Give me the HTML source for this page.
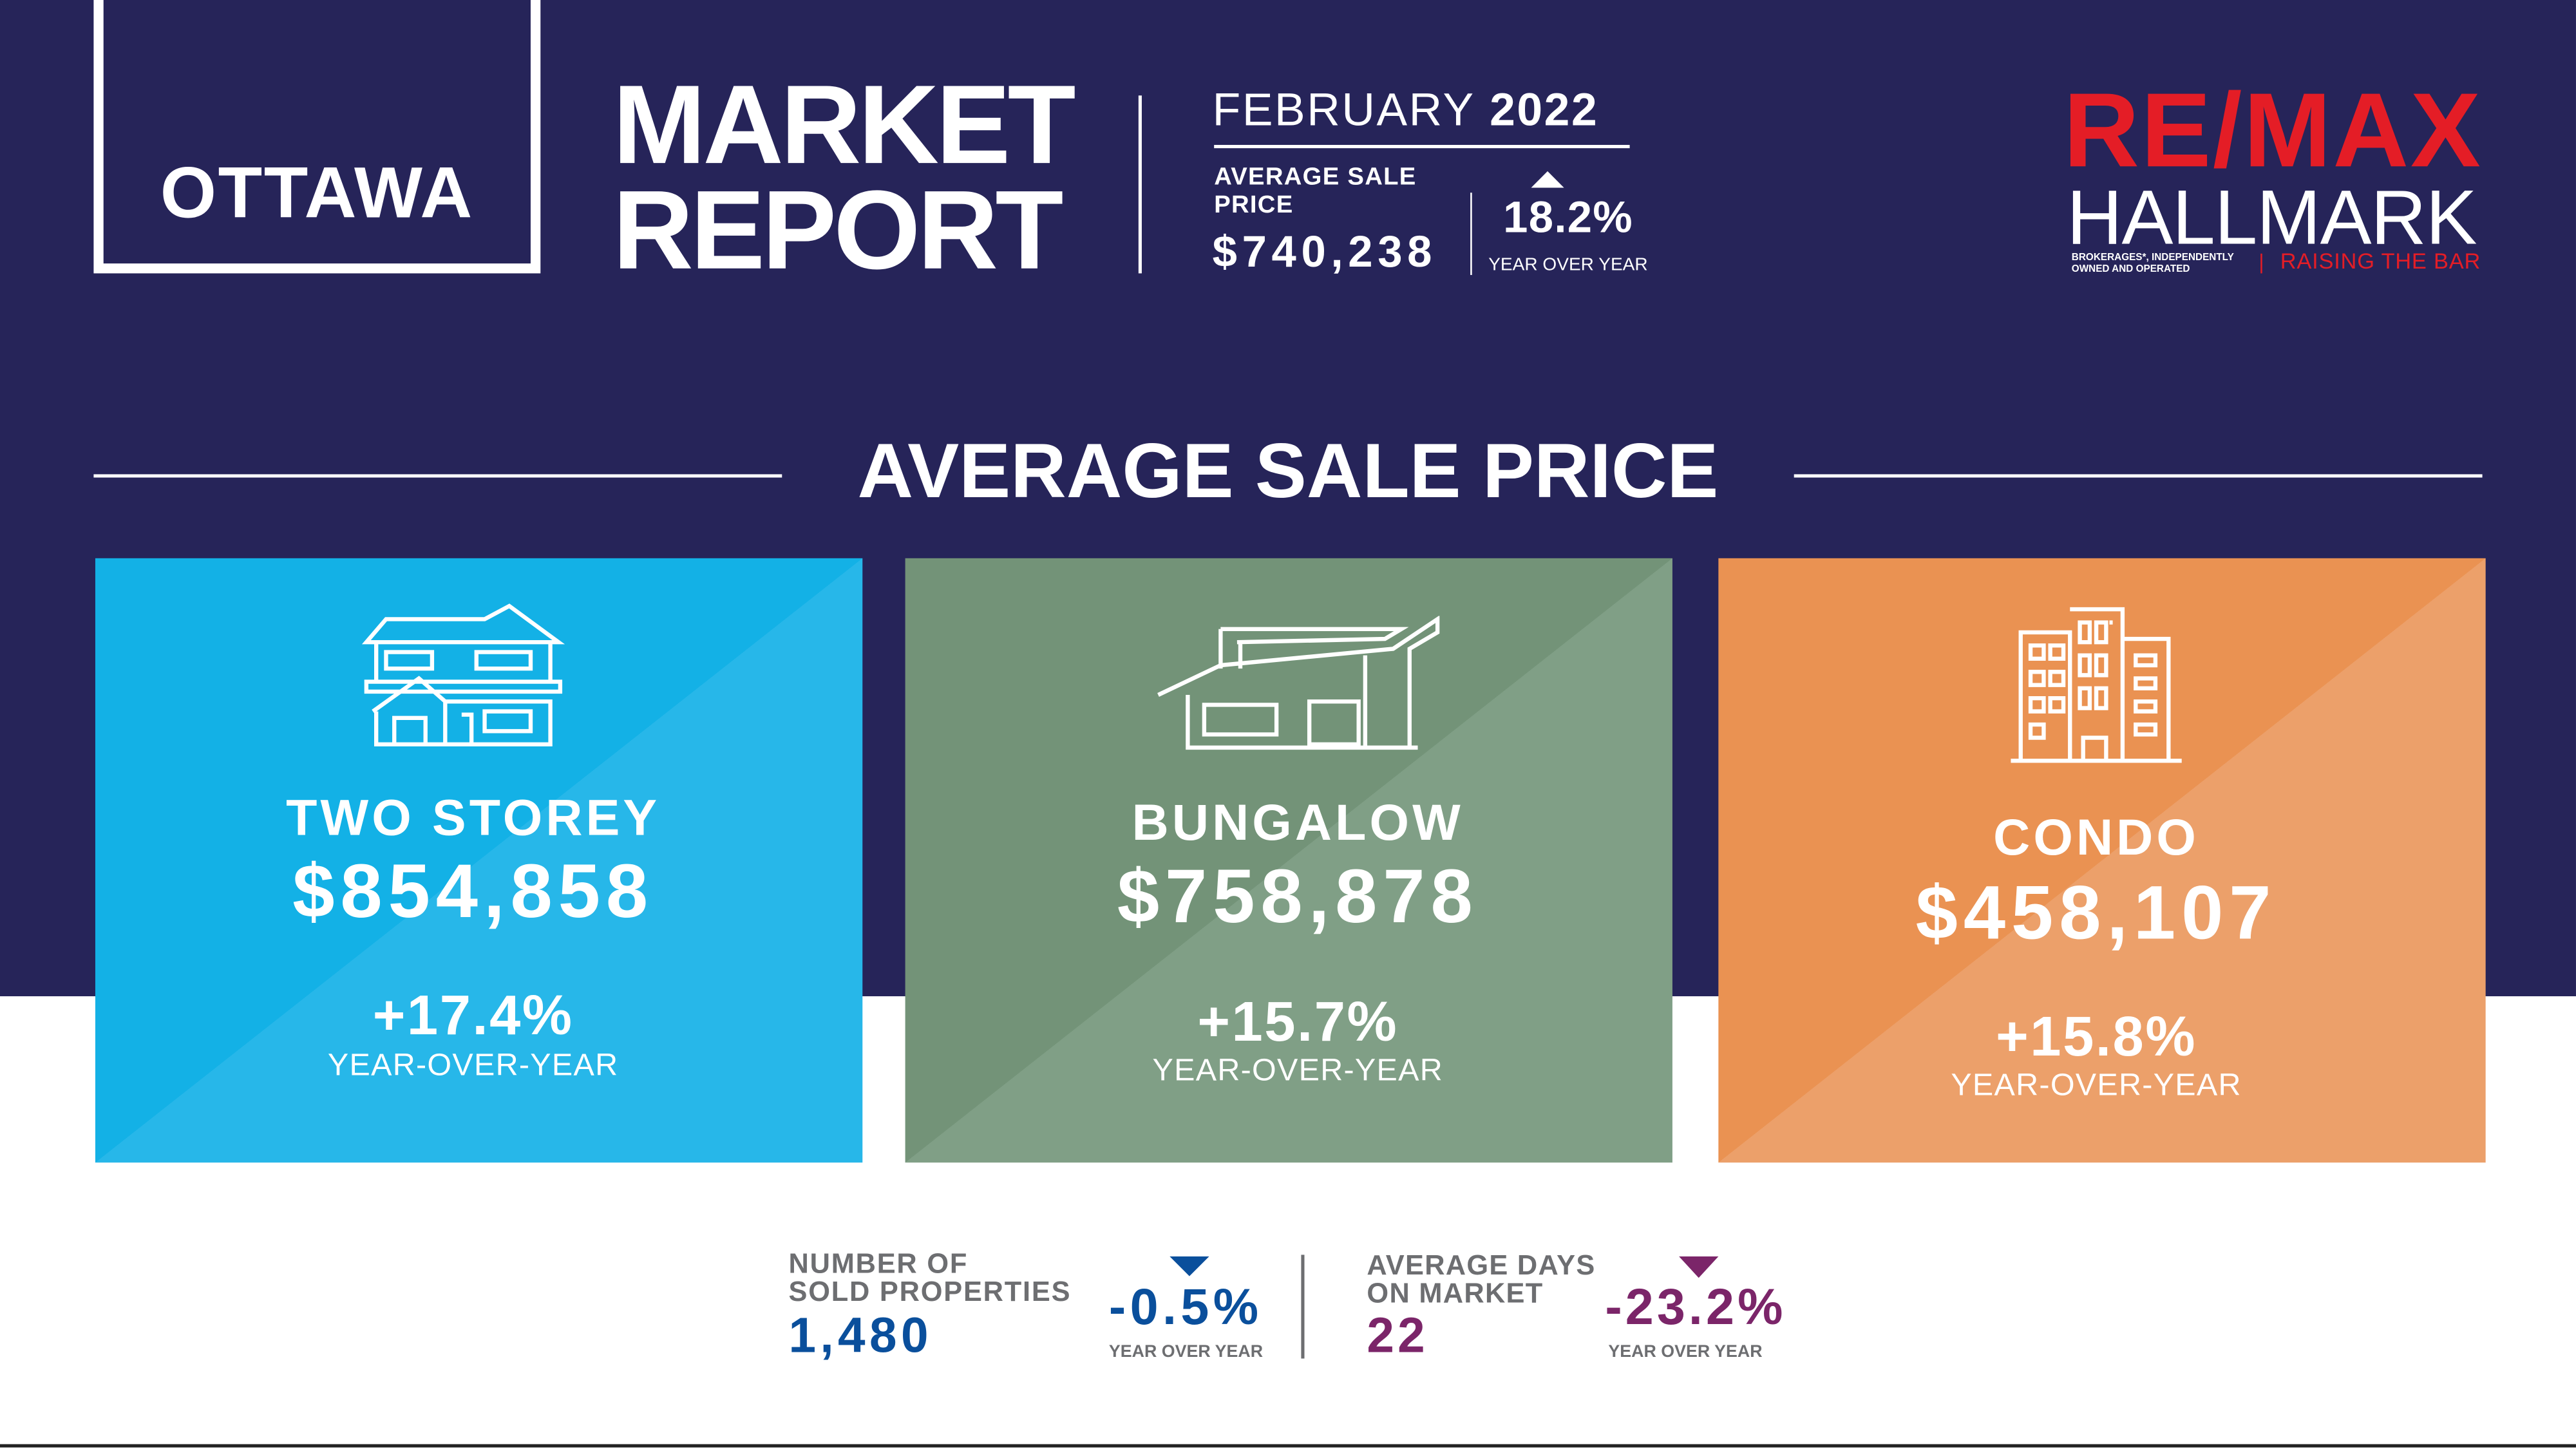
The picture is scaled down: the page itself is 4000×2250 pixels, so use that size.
<!DOCTYPE html>
<html><head><meta charset="utf-8"><style>
*{margin:0;padding:0;box-sizing:border-box}
html,body{width:4000px;height:2250px;overflow:hidden;background:#fff}
#w{position:absolute;left:0;top:0;width:1568px;height:880px;transform:scale(2.551,2.557);transform-origin:0 0;font-family:"Liberation Sans",sans-serif;background:#fff}
.a{position:absolute;white-space:nowrap}
.b{font-weight:bold}
.c{text-align:center}
</style></head><body><div id="w">
<div class="a" style="left:0;top:0;width:1568px;height:605px;background:#262459"></div>
<div class="a" style="left:0;top:877px;width:1568px;height:2px;background:#222"></div>
<div class="a" style="left:57px;top:-10px;width:272px;height:176px;border:6px solid #fff"></div>
<div class="a b c" style="left:57px;top:93px;width:272px;font-size:44px;color:#fff;letter-spacing:1px">OTTAWA</div>
<div class="a b" style="left:373px;top:44px;font-size:68px;line-height:64px;color:#fff;letter-spacing:-1.8px">MARKET<br>REPORT</div>
<div class="a" style="left:693px;top:58px;width:2px;height:108px;background:#fff"></div>
<div class="a" style="left:738px;top:51px;font-size:28px;color:#fff;letter-spacing:1px"><span style="font-weight:300">FEBRUARY</span> <b>2022</b></div>
<div class="a" style="left:739px;top:88px;width:253px;height:2px;background:#fff"></div>
<div class="a b" style="left:739px;top:99px;font-size:15px;line-height:17px;color:#fff;letter-spacing:.5px">AVERAGE SALE<br>PRICE</div>
<div class="a b" style="left:738px;top:138px;font-size:27px;color:#fff;letter-spacing:3px">$740,238</div>
<div class="a" style="left:895px;top:117px;width:1px;height:50px;background:#fff"></div>
<div class="a" style="left:932px;top:104px;width:0;height:0;border-left:10px solid transparent;border-right:10px solid transparent;border-bottom:10px solid #fff"></div>
<div class="a b" style="left:915px;top:117px;font-size:27px;color:#fff;letter-spacing:.5px">18.2%</div>
<div class="a" style="left:906px;top:155px;font-size:11px;color:#fff">YEAR OVER YEAR</div>
<div class="a b" style="left:1256px;top:42px;font-size:64px;color:#e41d26;letter-spacing:1px">RE/MAX</div>
<div class="a" style="left:1258px;top:104px;font-size:47px;color:#fff;letter-spacing:-0.5px">HALLMARK</div>
<div class="a b" style="left:1261px;top:154px;font-size:6px;line-height:7px;color:#fff">BROKERAGES*, INDEPENDENTLY<br>OWNED AND OPERATED</div>
<div class="a" style="left:1376px;top:154px;width:1px;height:12px;background:#e41d26"></div>
<div class="a" style="left:1388px;top:151px;font-size:13.5px;color:#e41d26;letter-spacing:.3px">RAISING THE BAR</div>
<div class="a" style="left:57px;top:288px;width:419px;height:2px;background:#fff"></div>
<div class="a" style="left:1092px;top:288px;width:419px;height:2px;background:#fff"></div>
<div class="a b c" style="left:484px;top:258px;width:600px;font-size:47px;color:#fff;letter-spacing:0px">AVERAGE SALE PRICE</div>

<div class="a" style="left:58px;top:339px;width:467px;height:367px;background:linear-gradient(to bottom right,#13b1e6 50%,#27b7e9 50%)"></div>
<div class="a" style="left:551px;top:339px;width:467px;height:367px;background:linear-gradient(to bottom right,#739378 50%,#809f86 50%)"></div>
<div class="a" style="left:1046px;top:339px;width:467px;height:367px;background:linear-gradient(to bottom right,#ea9252 50%,#eca06a 50%)"></div>

<svg class="a" style="left:215px;top:366px" width="130" height="90" viewBox="0 0 130 90" fill="none" stroke="#fff" stroke-width="2.5">
<path d="M8 24 L20 10 H80 L95 2 L125 24 H8 Z M14 24 V48 H120 V24 M8 48 H126 L126 54 H8Z M12 66 L40 46 L56 60 V86 H14 V66 M56 60 H120 V86 H56 M25 86 V70 H44 V86 M66 68 H72 V86 M80 66 H108 V78 H80 Z M20 30 H48 V40 H20Z M75 30 H108 V40 H75Z"/></svg>
<svg class="a" style="left:703px;top:374px" width="175" height="82" viewBox="0 0 175 82" fill="none" stroke="#fff" stroke-width="2.5">
<path d="M2 48 L40 30 L145 20 L172 2 L172 10 L155 20 V80 H128 V24 M40 8 L150 8 L140 14 L50 16 M52 16 V32 M40 8 V32 M20 48 V80 H160 M30 54 H74 V72 H30Z M94 52 H124 V78 H94Z M44 80 L95 80"/></svg>
<svg class="a" style="left:1222px;top:368px" width="110" height="98" viewBox="0 0 110 98" fill="none" stroke="#fff" stroke-width="2.5">
<path d="M8 94 V16 H38 V94 M38 2 H70 V94 M70 20 H98 V94 M2 94 H106 M46 94 V80 H60 V94 M14 24h8v8h-8z M26 24h8v8h-8z M14 40h8v8h-8z M26 40h8v8h-8z M14 56h8v8h-8z M26 56h8v8h-8z M14 72h8v8h-8z M44 10h6v12h-6z M54 10h6v12h-6z M64 10h-2 M44 30h6v12h-6z M54 30h6v12h-6z M44 50h6v12h-6z M54 50h6v12h-6z M78 30h12v6h-12z M78 44h12v6h-12z M78 58h12v6h-12z M78 72h12v6h-12z"/></svg>

<div class="a b c" style="left:58px;top:479px;width:460px;font-size:31px;color:#fff;letter-spacing:2px">TWO STOREY</div>
<div class="a b c" style="left:58px;top:514px;width:460px;font-size:46px;color:#fff;letter-spacing:3.5px">$854,858</div>
<div class="a b c" style="left:58px;top:598px;width:460px;font-size:34px;color:#fff;letter-spacing:1px">+17.4%</div>
<div class="a c" style="left:58px;top:637px;width:460px;font-size:19px;color:#fff;letter-spacing:.5px">YEAR-OVER-YEAR</div>

<div class="a b c" style="left:551px;top:482px;width:478px;font-size:31px;color:#fff;letter-spacing:2px">BUNGALOW</div>
<div class="a b c" style="left:551px;top:517px;width:478px;font-size:46px;color:#fff;letter-spacing:3.5px">$758,878</div>
<div class="a b c" style="left:551px;top:602px;width:478px;font-size:34px;color:#fff;letter-spacing:1px">+15.7%</div>
<div class="a c" style="left:551px;top:640px;width:478px;font-size:19px;color:#fff;letter-spacing:.5px">YEAR-OVER-YEAR</div>

<div class="a b c" style="left:1046px;top:491px;width:460px;font-size:31px;color:#fff;letter-spacing:2px">CONDO</div>
<div class="a b c" style="left:1046px;top:527px;width:460px;font-size:46px;color:#fff;letter-spacing:3.5px">$458,107</div>
<div class="a b c" style="left:1046px;top:611px;width:460px;font-size:34px;color:#fff;letter-spacing:1px">+15.8%</div>
<div class="a c" style="left:1046px;top:649px;width:460px;font-size:19px;color:#fff;letter-spacing:.5px">YEAR-OVER-YEAR</div>

<div class="a b" style="left:480px;top:759px;font-size:17px;line-height:17px;color:#6d6e71;letter-spacing:.7px">NUMBER OF<br>SOLD PROPERTIES</div>
<div class="a b" style="left:480px;top:795px;font-size:30px;color:#0a4f9c;letter-spacing:2.5px">1,480</div>
<div class="a" style="left:712px;top:763px;border-left:12px solid transparent;border-right:12px solid transparent;border-top:12px solid #0a4f9c"></div>
<div class="a b" style="left:675px;top:776px;font-size:31px;color:#0a4f9c;letter-spacing:2.5px">-0.5%</div>
<div class="a b" style="left:675px;top:815px;font-size:10.5px;color:#6d6e71">YEAR OVER YEAR</div>
<div class="a" style="left:792px;top:762px;width:1.5px;height:63px;background:#6d6e71"></div>
<div class="a b" style="left:832px;top:760px;font-size:17px;line-height:17px;color:#6d6e71;letter-spacing:.5px">AVERAGE DAYS<br>ON MARKET</div>
<div class="a b" style="left:832px;top:795px;font-size:30px;color:#7b2569;letter-spacing:2px">22</div>
<div class="a" style="left:1022px;top:763px;border-left:12px solid transparent;border-right:12px solid transparent;border-top:13px solid #7b2569"></div>
<div class="a b" style="left:977px;top:776px;font-size:31px;color:#7b2569;letter-spacing:2px">-23.2%</div>
<div class="a b" style="left:979px;top:815px;font-size:10.5px;color:#6d6e71">YEAR OVER YEAR</div>
</div></body></html>
